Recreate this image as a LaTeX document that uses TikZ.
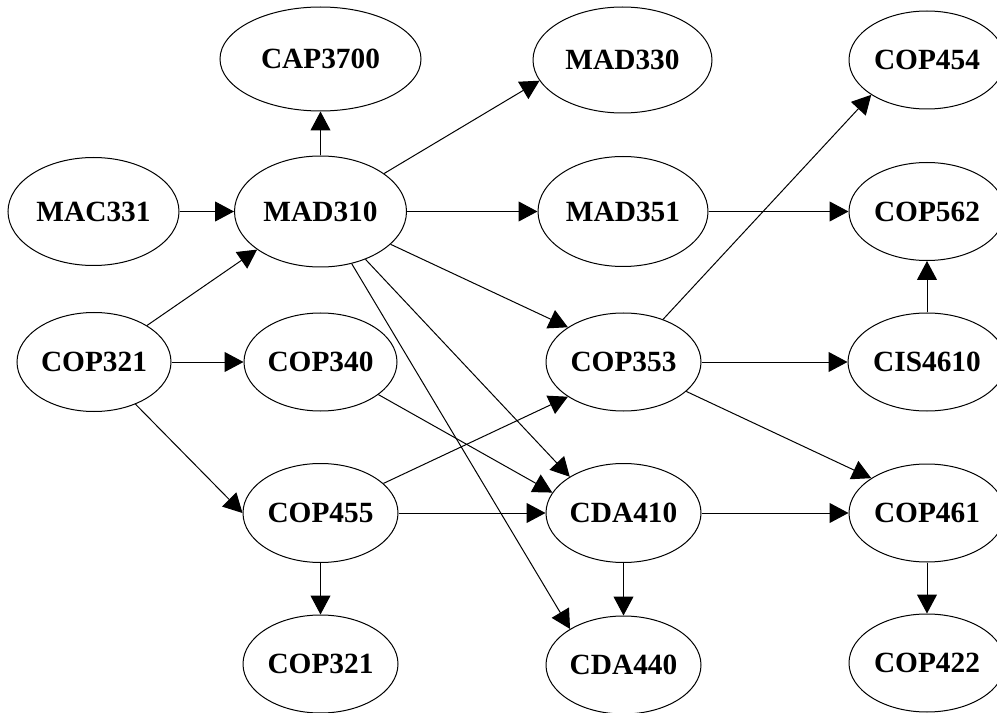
\documentclass[tikz,border=0pt]{standalone}
\usepackage{fontspec}
\setmainfont{Liberation Serif}
\usetikzlibrary{shapes.geometric,arrows.meta}
\tikzset{
  px/.style={x=0.75pt,y=-0.75pt},
  course/.style={ellipse,draw,line width=0.75pt,inner sep=0pt,
    minimum width=#1*0.75pt,
    font=\fontsize{22}{26}\selectfont\bfseries},
  course/.default=155,
  ht/.style={minimum height=#1*0.75pt},
  link/.style={line width=0.75pt,-{Triangle[length=14.25pt,width=15pt]}}
}
\begin{document}
\begin{tikzpicture}[px]
\useasboundingbox (0,0) rectangle (997,713);
% row 1
\node[course=201,ht=104] (cap3700) at (320.5,59) {CAP3700};
\node[course=179,ht=106] (mad330) at (622.5,60) {MAD330};
\node[course=156,ht=98] (cop454) at (927,60) {COP454};
% row 2
\node[course=171,ht=108] (mac331) at (93.5,211.5) {MAC331};
\node[course=172,ht=111] (mad310) at (320.5,211.5) {MAD310};
\node[course=170,ht=110] (mad351) at (623,211.5) {MAD351};
\node[course=156,ht=98] (cop562) at (927,211.5) {COP562};
% row 3
\node[course=154,ht=99] (cop321a) at (94,362) {COP321};
\node[course=153,ht=98] (cop340) at (320.5,362) {COP340};
\node[course=155,ht=98] (cop353) at (623.5,362) {COP353};
\node[course=158,ht=98] (cis4610) at (927,362) {CIS4610};
% row 4
\node[course=155,ht=99] (cop455) at (320.5,513) {COP455};
\node[course=155,ht=99] (cda410) at (623.5,513) {CDA410};
\node[course=156,ht=98] (cop461) at (927,513) {COP461};
% row 5
\node[course=155,ht=98] (cop321b) at (320.5,664) {COP321};
\node[course=155,ht=98] (cda440) at (623.5,665) {CDA440};
\node[course=156,ht=98] (cop422) at (927,663) {COP422};
% edges
\draw[link] (mad310) -- (cap3700);
\draw[link] (mad310) -- (mad330.194);
\draw[link] (mac331) -- (mad310);
\draw[link] (mad310) -- (mad351);
\draw[link] (mad310) -- (cop353.148);
\draw[link] (mad310) -- (cda410.146);
\draw[link] (mad310) -- (cda440.146);
\draw[link] (cop321a) -- (mad310.211);
\draw[link] (cop321a) -- (cop340);
\draw[link] (cop321a) -- (cop455.west);
\draw[link] (mad351) -- (cop562);
\draw[link] (cop353) -- (cop454.212);
\draw[link] (cop353) -- (cis4610);
\draw[link] (cop353) -- (cop461.148);
\draw[link] (cis4610) -- (cop562);
\draw[link] (cop340) -- (cda410.164);
\draw[link] (cop455) -- (cop353.212);
\draw[link] (cop455) -- (cda410);
\draw[link] (cop455) -- (cop321b);
\draw[link] (cda410) -- (cda440);
\draw[link] (cda410) -- (cop461);
\draw[link] (cop461) -- (cop422);
\end{tikzpicture}
\end{document}
